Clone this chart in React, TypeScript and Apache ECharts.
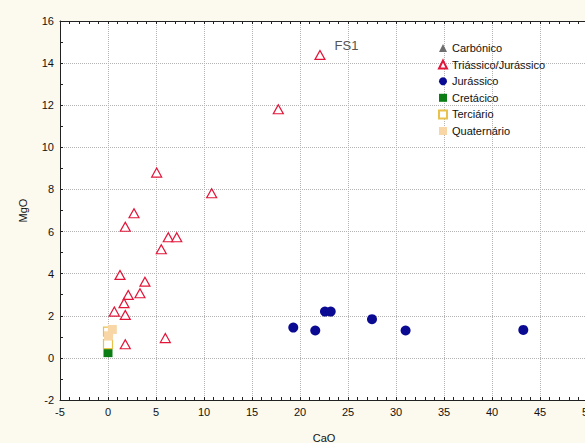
import React, { useEffect, useRef } from "react";
import * as echarts from "echarts";

const seriesNames = ["Carbónico", "Triássico/Jurássico", "Jurássico", "Cretácico", "Terciário", "Quaternário"];

const carbonico: number[][] = [];
const triassicoJurassico: number[][] = [
  [5.07, 8.8], [10.8, 7.82], [2.71, 6.87], [1.8, 6.23], [6.28, 5.73], [7.16, 5.73],
  [5.55, 5.16], [1.25, 3.94], [3.85, 3.62], [3.33, 3.07], [2.11, 2.99], [1.67, 2.6],
  [0.66, 2.2], [1.8, 2.04], [1.8, 0.65], [5.97, 0.94], [22.08, 14.39], [17.74, 11.81],
];
const jurassico: number[][] = [
  [19.3, 1.44], [21.59, 1.3], [22.6, 2.2], [23.2, 2.2], [27.5, 1.84], [31.0, 1.3], [43.26, 1.33],
];
const cretacico: number[][] = [[0, 0.25]];
const terciario: number[][] = [[0, 0.65], [0, 1.25]];
const quaternario: number[][] = [[0.05, 1.05], [0.45, 1.35]];

const fs1Point = [22.08, 14.39];
const fs1Label = "FS1";

const xTicks = { min: -5, max: 50, interval: 5 };
const yTicks = { min: -2, max: 16, interval: 2 };

export default function App() {
  const ref = useRef<HTMLDivElement>(null);
  useEffect(() => {
    if (!ref.current) return;
    const chart = echarts.init(ref.current, undefined, { renderer: "svg" });
    const font = "Liberation Sans";
    const axisCommon = {
      axisLine: { show: true, onZero: false, lineStyle: { color: "#222", width: 1 } },
      axisTick: { show: true, inside: true, length: 3, lineStyle: { color: "#222" } },
      minorTick: { show: true, length: 3, lineStyle: { color: "#222" } },
      axisLabel: { color: "#111", fontSize: 11, fontFamily: font },
      splitLine: { show: true, lineStyle: { color: "#b4b4b4", type: "dotted", width: 1 } },
    };
    const triData = triassicoJurassico.map((p) => {
      if (p[0] === fs1Point[0] && p[1] === fs1Point[1]) {
        return {
          value: p,
          label: {
            show: true,
            formatter: fs1Label,
            position: "right",
            offset: [4, -9],
            color: "#555",
            fontSize: 13,
            fontFamily: font,
          },
        };
      }
      return p;
    });
    chart.setOption({
      animation: false,
      backgroundColor: "#fcf9ee",
      textStyle: { fontFamily: font },
      grid: {
        left: 60,
        top: 21,
        right: -3,
        bottom: 43,
        outerBoundsMode: "none",
        containLabel: false,
        show: true,
        backgroundColor: "#ffffff",
        borderWidth: 0,
      },
      legend: {
        orient: "vertical",
        left: 433,
        top: 37,
        itemWidth: 8,
        itemHeight: 8,
        itemGap: 4.6,
        data: seriesNames,
        textStyle: { color: "#111", fontSize: 11, lineHeight: 12, fontFamily: font },
      },
      xAxis: [
        {
          type: "value",
          ...xTicks,
          ...axisCommon,
          minorTick: { ...axisCommon.minorTick, splitNumber: 5 },
          name: "CaO",
          nameLocation: "middle",
          nameGap: 32,
          nameTextStyle: { color: "#111", fontSize: 11, fontFamily: font },
          axisLabel: { ...axisCommon.axisLabel, margin: 6 },
        },
        {
          type: "value",
          position: "top",
          ...xTicks,
          ...axisCommon,
          minorTick: { ...axisCommon.minorTick, splitNumber: 5 },
          axisLabel: { show: false },
          splitLine: { show: false },
        },
      ],
      yAxis: {
        type: "value",
        ...yTicks,
        ...axisCommon,
        minorTick: { ...axisCommon.minorTick, splitNumber: 2 },
        name: "MgO",
        nameLocation: "middle",
        nameGap: 32,
        nameTextStyle: { color: "#111", fontSize: 11, fontFamily: font },
        axisLabel: { ...axisCommon.axisLabel, margin: 6 },
      },
      series: [
        {
          name: seriesNames[0],
          type: "scatter",
          symbol: "triangle",
          symbolSize: 9,
          itemStyle: { color: "#6e6e6e", opacity: 1 },
          data: carbonico,
        },
        {
          name: seriesNames[1],
          type: "scatter",
          symbol: "triangle",
          symbolSize: [10, 9],
          itemStyle: { color: "#ffffff", borderColor: "#e3163a", borderWidth: 1.2, opacity: 1 },
          data: triData,
        },
        {
          name: seriesNames[2],
          type: "scatter",
          symbol: "circle",
          symbolSize: 10,
          itemStyle: { color: "#0a0a93", opacity: 1 },
          data: jurassico,
        },
        {
          name: seriesNames[3],
          type: "scatter",
          symbol: "rect",
          symbolSize: 9,
          itemStyle: { color: "#0a7d14", opacity: 1 },
          data: cretacico,
        },
        {
          name: seriesNames[4],
          type: "scatter",
          symbol: "rect",
          symbolSize: 9,
          itemStyle: { color: "#ffffff", borderColor: "#e8c24a", borderWidth: 1.2, opacity: 1 },
          data: terciario,
        },
        {
          name: seriesNames[5],
          type: "scatter",
          symbol: "rect",
          symbolSize: 9,
          itemStyle: { color: "#f8d6a6", opacity: 1 },
          data: quaternario,
        },
      ],
    });
    return () => chart.dispose();
  }, []);
  return (
    <div
      ref={ref}
      style={{ position: "fixed", left: 0, top: 0, width: 585, height: 443 }}
    />
  );
}
